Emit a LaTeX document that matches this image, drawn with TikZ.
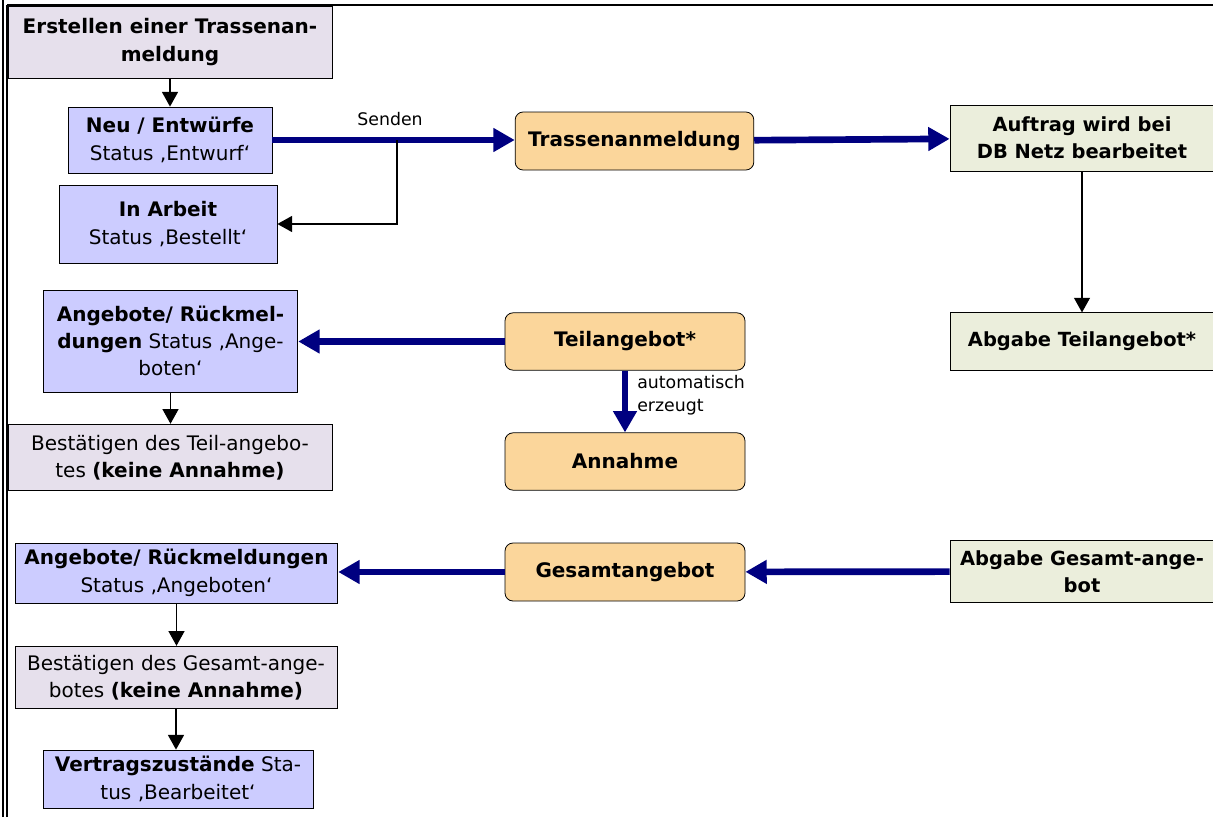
\documentclass[tikz,border=0pt]{standalone}
\usepackage{fontspec}
\setmainfont{DejaVu Sans}
\usetikzlibrary{positioning,arrows.meta}
\definecolor{lila}{HTML}{CCCCFF}
\definecolor{grau}{HTML}{E6E0EC}
\definecolor{hellorange}{HTML}{FBD69B}
\definecolor{hellgruen}{HTML}{EBEEDC}
\definecolor{dbblau}{HTML}{000080}

\begin{document}
\begin{tikzpicture}
        [
        x=0.75pt, y=-0.75pt,
        every node/.style={font=\fontsize{15}{20.5}\selectfont, align=center, inner sep=0pt},
        kasten/.style={rectangle, draw, line width=0.6pt},
        lilabox/.style={kasten, fill=lila},
        graubox/.style={kasten, fill=grau},
        orangebox/.style={kasten, fill=hellorange, rounded corners=6pt, font=\fontsize{15}{20.5}\selectfont\bfseries},
        gruenbox/.style={kasten, fill=hellgruen, font=\fontsize{14.6}{20}\selectfont\bfseries},
        pfeil/.style={-{Triangle[length=11pt,width=12pt]}, line width=0.9pt},
        dickpfeil/.style={-{Triangle[length=16pt,width=17pt]}, draw=dbblau, line width=5pt},
        klein/.style={font=\fontsize{13}{17}\selectfont}
        ]
        \useasboundingbox (0,0) rectangle (1213,817);
        % Rahmen
        \draw[line width=1.6pt] (7,5) -- (1213,5);
        \draw[line width=0.8pt] (3,0) -- (3,817);
        \draw[line width=0.8pt] (7,5) -- (7,817);

        % Linke Spalte: Kunde
        \node[graubox, minimum width=243pt, minimum height=54pt, font=\fontsize{15}{20.5}\selectfont\bfseries]
            (erstellen) at (170,42) {Erstellen einer Trassenan-\\meldung};
        \node[lilabox, minimum width=153pt, minimum height=49.5pt] (neu) at (170,140)
            {\textbf{Neu / Entwürfe}\\Status ‚Entwurf‘};
        \node[lilabox, minimum width=163.5pt, minimum height=58.5pt] (arbeit) at (168,224)
            {\textbf{In Arbeit}\\Status ‚Bestellt‘};
        \node[lilabox, minimum width=191pt, minimum height=76.5pt] (angebote1) at (170.5,341)
            {\textbf{Angebote/ Rückmel-}\\\textbf{dungen} Status ‚Ange-\\boten‘};
        \node[graubox, minimum width=243pt, minimum height=50pt] (bestteil) at (170,457.5)
            {Bestätigen des Teil-angebo-\\tes \textbf{(keine Annahme)}};
        \node[lilabox, minimum width=242pt, minimum height=45pt] (angebote2) at (176.5,573)
            {\textbf{Angebote/ Rückmeldungen}\\Status ‚Angeboten‘};
        \node[graubox, minimum width=241.5pt, minimum height=47pt] (bestgesamt) at (176,677.5)
            {Bestätigen des Gesamt-ange-\\botes \textbf{(keine Annahme)}};
        \node[lilabox, minimum width=202.5pt, minimum height=43.5pt] (vertrag) at (178,779)
            {\textbf{Vertragszustände} Sta-\\tus ‚Bearbeitet‘};

        % Mitte: Vorgaenge
        \node[orangebox, minimum width=179pt, minimum height=43.5pt] (trassen) at (634.5,141) {Trassenanmeldung};
        \node[orangebox, minimum width=180pt, minimum height=43pt] (teilang) at (625,341.5) {Teilangebot*};
        \node[orangebox, minimum width=180pt, minimum height=43pt] (annahme) at (625,461.5) {Annahme};
        \node[orangebox, minimum width=180pt, minimum height=43.5pt] (gesamt) at (625,572) {Gesamtangebot};

        % Rechte Spalte: DB Netz
        \node[gruenbox, minimum width=198pt, minimum height=49.5pt] (auftrag) at (1082,138)
            {Auftrag wird bei\\DB Netz bearbeitet};
        \node[gruenbox, minimum width=198pt, minimum height=43pt] (abgabeteil) at (1082,341.5)
            {Abgabe Teilangebot*};
        \node[gruenbox, minimum width=198pt, minimum height=47pt] (abgabegesamt) at (1082,571.5)
            {Abgabe Gesamt-ange-\\bot};

        % Pfeile
        \draw[pfeil] (erstellen) -- (neu);
        \draw[dickpfeil] (neu.east) -- (neu.east -| trassen.west);
        \node[klein] (senden) at (390,119) {Senden};
        \coordinate (abzweig) at (397,140);
        \draw[pfeil] (abzweig) |- (arbeit.east);
        \draw[dickpfeil] (trassen) -- (auftrag);
        \draw[pfeil] (auftrag) -- (abgabeteil);
        \draw[dickpfeil] (teilang) -- (teilang -| angebote1.east);
        \draw[dickpfeil] (teilang) -- (annahme);
        \node[klein, align=left, anchor=west] (erzeugt) at (637,395) {automatisch\\erzeugt};
        \draw[pfeil] (angebote1.south) -- (angebote1.south |- bestteil.north);
        \draw[dickpfeil] (abgabegesamt) -- (gesamt);
        \draw[dickpfeil] (gesamt) -- (gesamt -| angebote2.east);
        \draw[pfeil] (angebote2.south) -- (angebote2.south |- bestgesamt.north);
        \draw[pfeil] (bestgesamt.south) -- (bestgesamt.south |- vertrag.north);
    \end{tikzpicture}
\end{document}
